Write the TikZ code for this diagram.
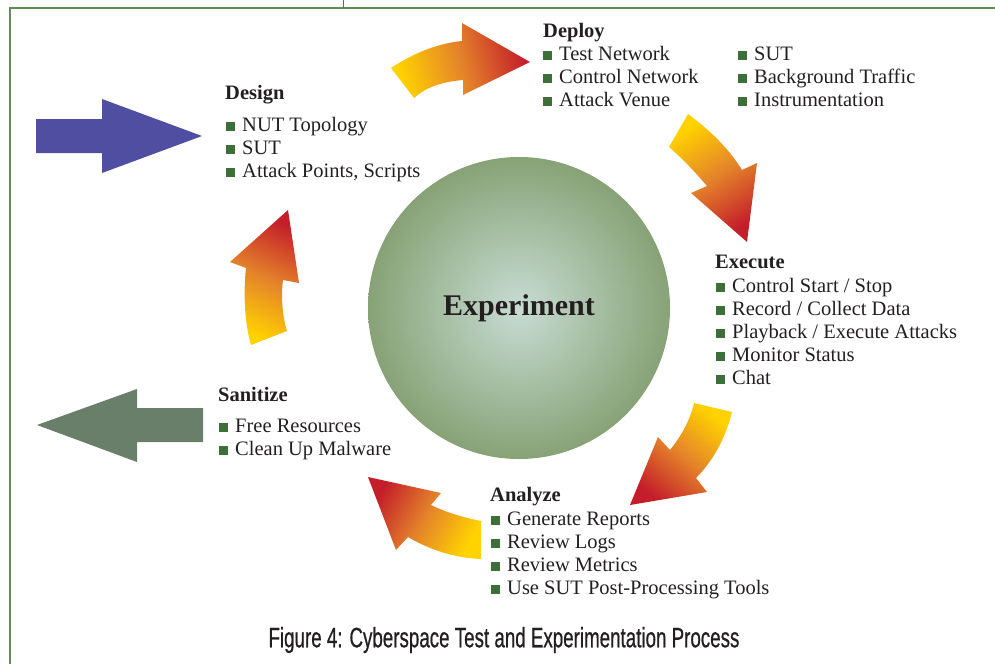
\documentclass[tikz,border=0pt]{standalone}
\usepackage{fontspec}
\usepackage{graphicx}
\setmainfont{Liberation Serif}
\newfontfamily\capfont[FakeBold=0.8]{Liberation Sans}

\definecolor{ink}{HTML}{231F20}
\definecolor{bullgreen}{HTML}{3D7038}
\definecolor{framegreen}{HTML}{5F8F52}
\definecolor{inarrow}{HTML}{504EA0}
\definecolor{outarrow}{HTML}{6A7F6A}
\definecolor{expin}{HTML}{C8DCD4}
\definecolor{expout}{HTML}{87A276}
\definecolor{arryellow}{HTML}{FFD200}
\definecolor{arrorange}{HTML}{E4832A}
\definecolor{arrred}{HTML}{C41E2A}

\newcommand{\bul}{{\color{bullgreen}\rule{9pt}{9pt}}\hspace{7pt}}

\tikzset{
  head/.style = {anchor=base west, inner sep=0pt, text=ink, font=\fontsize{20.5}{24}\selectfont\bfseries},
  item/.style = {anchor=base west, inner sep=0pt, text=ink, font=\fontsize{20.5}{24}\selectfont},
  flow/.style = {top color=arrred, bottom color=arryellow, middle color=arrorange},
}

\begin{document}
\begin{tikzpicture}[x=1pt, y=-1pt]
\useasboundingbox (0,0) rectangle (995,664);

% frame
\draw[framegreen, line width=1.2pt] (10,664) -- (10,8) -- (995,8);
\draw[black!60, line width=0.8pt] (343,0) -- (343,8);

% centre
\node[circle, minimum size=302pt, inner sep=0pt, inner color=expin, outer color=expout,
      text=ink, font=\fontsize{30}{36}\selectfont\bfseries] (exp) at (519,308) {Experiment};

% in and out arrows
\fill[inarrow] (36,119) -- (102,119) -- (102,99) -- (202,136) -- (102,173) -- (102,153) -- (36,153) -- cycle;
\fill[outarrow] (37,425) -- (137,389) -- (137,408) -- (203,408) -- (203,442) -- (137,442) -- (137,462) -- cycle;

% cycle arrows
\shade[flow, shading angle=-75] (391,68) .. controls (415,52) and (440,43) .. (462,41) -- (462,23) -- (530,62)
  -- (463,95) -- (463,80) .. controls (440,82) and (425,88) .. (414,98) -- cycle;
\shade[flow, shading angle=-148] (688,114) .. controls (710,130) and (730,150) .. (742,170) -- (757,163) -- (747,242)
  -- (691,193) -- (707,186) .. controls (695,172) and (682,158) .. (669,147) -- cycle;
\shade[flow, shading angle=140] (732,412) .. controls (725,440) and (712,462) .. (696,478) -- (707,492) -- (630,505)
  -- (658,437) -- (670,450) .. controls (682,435) and (690,420) .. (694,403) -- cycle;
\shade[flow, shading angle=61] (481,521) .. controls (465,518) and (445,512) .. (431,505) -- (441,493) -- (368,477)
  -- (396,550) -- (408,537) .. controls (430,550) and (455,558) .. (481,559) -- cycle;
\shade[flow, shading angle=-25] (287,331) .. controls (282,315) and (281,295) .. (283,280) -- (299,283) -- (288,210)
  -- (230,262) -- (246,268) .. controls (243,295) and (245,325) .. (251,345) -- cycle;

% Design
\node[head] (des) at (225,99) {Design};
\node[item] (des1) at (226,131) {\bul NUT Topology};
\node[item] (des2) at (226,154) {\bul SUT};
\node[item] (des3) at (226,177) {\bul Attack Points, Scripts};

% Deploy
\node[head] (dep) at (543,37) {Deploy};
\node[item] (dep1) at (543,60) {\bul Test Network};
\node[item] (dep2) at (543,83) {\bul Control Network};
\node[item] (dep3) at (543,106) {\bul Attack Venue};
\node[item] (dep4) at (738,60) {\bul SUT};
\node[item] (dep5) at (738,83) {\bul Background Traffic};
\node[item] (dep6) at (738,106) {\bul Instrumentation};

% Execute
\node[head] (exe) at (715,268) {Execute};
\node[item] (exe1) at (716,292) {\bul Control Start / Stop};
\node[item] (exe2) at (716,315) {\bul Record / Collect Data};
\node[item] (exe3) at (716,338) {\bul Playback / Execute Attacks};
\node[item] (exe4) at (716,361) {\bul Monitor Status};
\node[item] (exe5) at (716,384) {\bul Chat};

% Analyze
\node[head] (ana) at (490,501) {Analyze};
\node[item] (ana1) at (491,525) {\bul Generate Reports};
\node[item] (ana2) at (491,548) {\bul Review Logs};
\node[item] (ana3) at (491,571) {\bul Review Metrics};
\node[item] (ana4) at (491,594) {\bul Use SUT Post-Processing Tools};

% Sanitize
\node[head] (san) at (218,401) {Sanitize};
\node[item] (san1) at (219,432) {\bul Free Resources};
\node[item] (san2) at (219,455) {\bul Clean Up Malware};

% caption
\node[text=ink, font=\capfont\fontsize{28}{32}\selectfont] (cap) at (504,640)
  {\scalebox{0.67}[1]{Figure 4: Cyberspace Test and Experimentation Process}};
\end{tikzpicture}
\end{document}
